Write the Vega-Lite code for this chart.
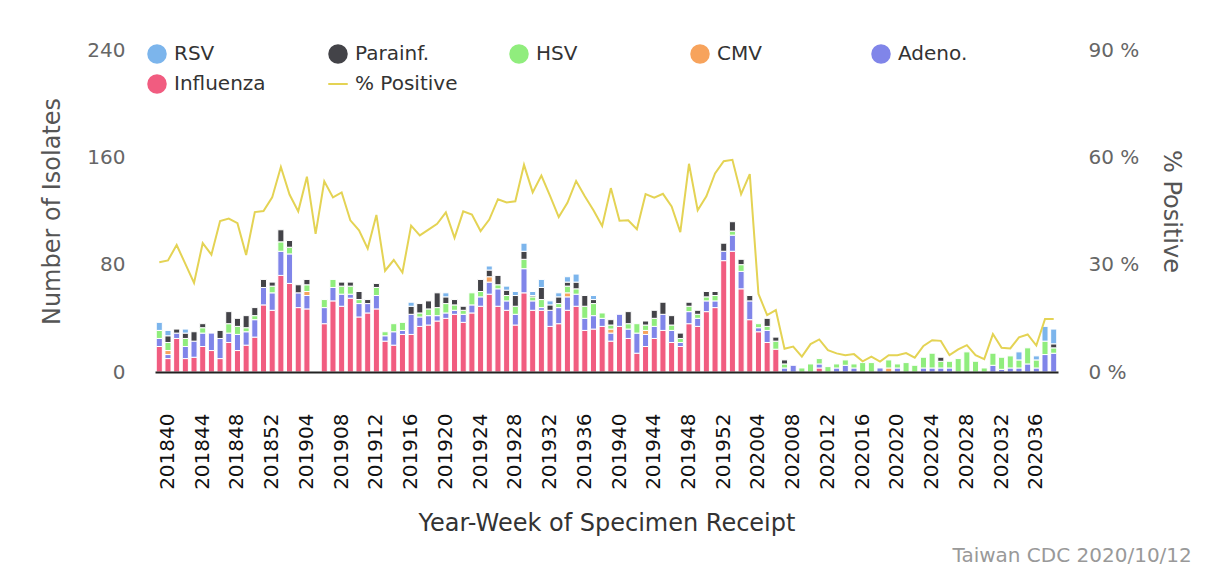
{
  "$schema": "https://vega.github.io/schema/vega-lite/v6.json",
  "autosize": "none",
  "width": 903,
  "height": 322,
  "padding": {"left": 155, "top": 50, "right": 156, "bottom": 195},
  "background": "white",
  "config": {
    "font": "DejaVu Sans",
    "view": {"stroke": null},
    "axis": {"grid": false, "titleFontWeight": "normal"},
    "legend": {
      "orient": "none",
      "legendX": -8,
      "legendY": -6,
      "direction": "horizontal",
      "columns": 5,
      "gridAlign": "all",
      "columnPadding": 47,
      "rowPadding": 10,
      "padding": 0,
      "symbolType": "circle",
      "symbolSize": 380,
      "symbolStrokeWidth": 0,
      "labelFontSize": 20,
      "labelColor": "#333333",
      "labelOffset": 7
    }
  },
  "title": {"text": "Taiwan CDC 2020/10/12", "orient": "bottom", "anchor": "end", "frame": "bounds", "fontSize": 20, "fontWeight": "normal", "color": "#999999", "offset": 11, "dx": 9},
  "datasets": {
    "rank": [
      {"series": "Influenza", "rank": 1},
      {"series": "Adeno", "rank": 2},
      {"series": "CMV", "rank": 3},
      {"series": "HSV", "rank": 4},
      {"series": "Parainf", "rank": 5},
      {"series": "RSV", "rank": 6}
    ],
    "weeks": [
      {"w":"201839","Influenza":19,"Adeno":6,"CMV":0,"HSV":6,"Parainf":0,"RSV":6,"p":30.7},
      {"w":"201840","Influenza":10,"Adeno":3,"CMV":3,"HSV":6,"Parainf":5,"RSV":4,"p":31.2},
      {"w":"201841","Influenza":25,"Adeno":4,"CMV":0,"HSV":0,"Parainf":3,"RSV":0,"p":35.5},
      {"w":"201842","Influenza":10,"Adeno":9,"CMV":0,"HSV":6,"Parainf":4,"RSV":3,"p":30.2},
      {"w":"201843","Influenza":11,"Adeno":12,"CMV":0,"HSV":0,"Parainf":7,"RSV":0,"p":24.9},
      {"w":"201844","Influenza":19,"Adeno":10,"CMV":0,"HSV":4,"Parainf":3,"RSV":0,"p":36.0},
      {"w":"201845","Influenza":16,"Adeno":13,"CMV":0,"HSV":0,"Parainf":0,"RSV":0,"p":32.8},
      {"w":"201846","Influenza":10,"Adeno":15,"CMV":0,"HSV":0,"Parainf":6,"RSV":0,"p":42.2},
      {"w":"201847","Influenza":22,"Adeno":7,"CMV":0,"HSV":7,"Parainf":9,"RSV":0,"p":42.9},
      {"w":"201848","Influenza":16,"Adeno":12,"CMV":0,"HSV":6,"Parainf":6,"RSV":0,"p":41.6},
      {"w":"201849","Influenza":20,"Adeno":10,"CMV":0,"HSV":3,"Parainf":9,"RSV":0,"p":32.7},
      {"w":"201850","Influenza":26,"Adeno":13,"CMV":0,"HSV":3,"Parainf":6,"RSV":0,"p":44.7},
      {"w":"201851","Influenza":50,"Adeno":13,"CMV":0,"HSV":0,"Parainf":6,"RSV":0,"p":45.0},
      {"w":"201852","Influenza":46,"Adeno":13,"CMV":0,"HSV":5,"Parainf":3,"RSV":0,"p":48.8},
      {"w":"201901","Influenza":72,"Adeno":18,"CMV":0,"HSV":7,"Parainf":9,"RSV":0,"p":57.3},
      {"w":"201902","Influenza":66,"Adeno":22,"CMV":0,"HSV":5,"Parainf":5,"RSV":0,"p":49.6},
      {"w":"201903","Influenza":48,"Adeno":11,"CMV":0,"HSV":0,"Parainf":6,"RSV":0,"p":44.9},
      {"w":"201904","Influenza":47,"Adeno":10,"CMV":3,"HSV":5,"Parainf":4,"RSV":0,"p":54.6},
      {"w":"201905","Influenza":0,"Adeno":0,"CMV":0,"HSV":0,"Parainf":0,"RSV":0,"p":38.6},
      {"w":"201906","Influenza":36,"Adeno":12,"CMV":0,"HSV":6,"Parainf":0,"RSV":0,"p":53.3},
      {"w":"201907","Influenza":53,"Adeno":10,"CMV":0,"HSV":6,"Parainf":0,"RSV":0,"p":48.8},
      {"w":"201908","Influenza":49,"Adeno":9,"CMV":0,"HSV":6,"Parainf":3,"RSV":0,"p":50.2},
      {"w":"201909","Influenza":55,"Adeno":3,"CMV":0,"HSV":6,"Parainf":3,"RSV":0,"p":42.4},
      {"w":"201910","Influenza":41,"Adeno":10,"CMV":0,"HSV":3,"Parainf":6,"RSV":0,"p":39.6},
      {"w":"201911","Influenza":44,"Adeno":7,"CMV":0,"HSV":0,"Parainf":3,"RSV":0,"p":34.5},
      {"w":"201912","Influenza":47,"Adeno":10,"CMV":0,"HSV":6,"Parainf":3,"RSV":0,"p":43.9},
      {"w":"201913","Influenza":23,"Adeno":4,"CMV":0,"HSV":3,"Parainf":0,"RSV":0,"p":28.3},
      {"w":"201914","Influenza":20,"Adeno":10,"CMV":0,"HSV":6,"Parainf":0,"RSV":0,"p":31.3},
      {"w":"201915","Influenza":28,"Adeno":3,"CMV":0,"HSV":6,"Parainf":0,"RSV":0,"p":27.8},
      {"w":"201916","Influenza":28,"Adeno":15,"CMV":0,"HSV":0,"Parainf":6,"RSV":3,"p":40.9},
      {"w":"201917","Influenza":34,"Adeno":7,"CMV":0,"HSV":3,"Parainf":7,"RSV":0,"p":38.2},
      {"w":"201918","Influenza":35,"Adeno":7,"CMV":0,"HSV":5,"Parainf":6,"RSV":0,"p":39.8},
      {"w":"201919","Influenza":38,"Adeno":4,"CMV":0,"HSV":6,"Parainf":11,"RSV":0,"p":41.4},
      {"w":"201920","Influenza":40,"Adeno":4,"CMV":0,"HSV":7,"Parainf":5,"RSV":3,"p":44.6},
      {"w":"201921","Influenza":43,"Adeno":3,"CMV":0,"HSV":4,"Parainf":4,"RSV":0,"p":37.5},
      {"w":"201922","Influenza":37,"Adeno":6,"CMV":0,"HSV":3,"Parainf":3,"RSV":0,"p":44.9},
      {"w":"201923","Influenza":44,"Adeno":6,"CMV":0,"HSV":9,"Parainf":0,"RSV":0,"p":44.0},
      {"w":"201924","Influenza":49,"Adeno":7,"CMV":0,"HSV":4,"Parainf":9,"RSV":0,"p":39.4},
      {"w":"201925","Influenza":58,"Adeno":9,"CMV":4,"HSV":0,"Parainf":5,"RSV":3,"p":42.6},
      {"w":"201926","Influenza":49,"Adeno":13,"CMV":0,"HSV":3,"Parainf":7,"RSV":0,"p":48.3},
      {"w":"201927","Influenza":46,"Adeno":7,"CMV":0,"HSV":4,"Parainf":4,"RSV":3,"p":47.4},
      {"w":"201928","Influenza":35,"Adeno":8,"CMV":0,"HSV":6,"Parainf":8,"RSV":3,"p":47.7},
      {"w":"201929","Influenza":59,"Adeno":18,"CMV":0,"HSV":7,"Parainf":6,"RSV":6,"p":57.9},
      {"w":"201930","Influenza":46,"Adeno":7,"CMV":0,"HSV":3,"Parainf":1,"RSV":3,"p":50.2},
      {"w":"201931","Influenza":46,"Adeno":2,"CMV":0,"HSV":6,"Parainf":9,"RSV":6,"p":54.9},
      {"w":"201932","Influenza":34,"Adeno":12,"CMV":0,"HSV":0,"Parainf":4,"RSV":3,"p":49.2},
      {"w":"201933","Influenza":36,"Adeno":12,"CMV":0,"HSV":3,"Parainf":5,"RSV":3,"p":43.3},
      {"w":"201934","Influenza":46,"Adeno":10,"CMV":3,"HSV":5,"Parainf":3,"RSV":4,"p":47.3},
      {"w":"201935","Influenza":49,"Adeno":9,"CMV":0,"HSV":4,"Parainf":5,"RSV":6,"p":53.4},
      {"w":"201936","Influenza":31,"Adeno":9,"CMV":0,"HSV":9,"Parainf":8,"RSV":0,"p":49.1},
      {"w":"201937","Influenza":32,"Adeno":10,"CMV":0,"HSV":9,"Parainf":3,"RSV":3,"p":45.2},
      {"w":"201938","Influenza":34,"Adeno":6,"CMV":0,"HSV":4,"Parainf":0,"RSV":0,"p":40.8},
      {"w":"201939","Influenza":23,"Adeno":6,"CMV":3,"HSV":3,"Parainf":4,"RSV":0,"p":51.4},
      {"w":"201940","Influenza":34,"Adeno":9,"CMV":0,"HSV":0,"Parainf":0,"RSV":0,"p":42.3},
      {"w":"201941","Influenza":25,"Adeno":7,"CMV":0,"HSV":4,"Parainf":9,"RSV":0,"p":42.4},
      {"w":"201942","Influenza":14,"Adeno":15,"CMV":0,"HSV":7,"Parainf":0,"RSV":0,"p":39.9},
      {"w":"201943","Influenza":19,"Adeno":9,"CMV":3,"HSV":4,"Parainf":3,"RSV":0,"p":49.7},
      {"w":"201944","Influenza":25,"Adeno":9,"CMV":0,"HSV":6,"Parainf":6,"RSV":0,"p":48.7},
      {"w":"201945","Influenza":31,"Adeno":12,"CMV":0,"HSV":0,"Parainf":9,"RSV":0,"p":49.8},
      {"w":"201946","Influenza":22,"Adeno":9,"CMV":0,"HSV":4,"Parainf":7,"RSV":0,"p":46.3},
      {"w":"201947","Influenza":19,"Adeno":3,"CMV":0,"HSV":3,"Parainf":4,"RSV":0,"p":39.1},
      {"w":"201948","Influenza":36,"Adeno":9,"CMV":0,"HSV":4,"Parainf":3,"RSV":0,"p":58.2},
      {"w":"201949","Influenza":34,"Adeno":6,"CMV":0,"HSV":3,"Parainf":3,"RSV":0,"p":45.2},
      {"w":"201950","Influenza":45,"Adeno":8,"CMV":0,"HSV":3,"Parainf":4,"RSV":0,"p":49.1},
      {"w":"201951","Influenza":48,"Adeno":5,"CMV":0,"HSV":4,"Parainf":3,"RSV":0,"p":55.5},
      {"w":"201952","Influenza":83,"Adeno":7,"CMV":0,"HSV":0,"Parainf":6,"RSV":0,"p":58.9},
      {"w":"202001","Influenza":90,"Adeno":12,"CMV":0,"HSV":3,"Parainf":7,"RSV":0,"p":59.3},
      {"w":"202002","Influenza":62,"Adeno":13,"CMV":0,"HSV":5,"Parainf":4,"RSV":0,"p":49.7},
      {"w":"202003","Influenza":39,"Adeno":14,"CMV":0,"HSV":0,"Parainf":4,"RSV":0,"p":55.3},
      {"w":"202004","Influenza":30,"Adeno":3,"CMV":0,"HSV":3,"Parainf":0,"RSV":0,"p":21.8},
      {"w":"202005","Influenza":22,"Adeno":9,"CMV":0,"HSV":3,"Parainf":6,"RSV":0,"p":15.9},
      {"w":"202006","Influenza":17,"Adeno":0,"CMV":0,"HSV":6,"Parainf":3,"RSV":0,"p":17.3},
      {"w":"202007","Influenza":0,"Adeno":3,"CMV":0,"HSV":3,"Parainf":3,"RSV":0,"p":6.5},
      {"w":"202008","Influenza":0,"Adeno":5,"CMV":0,"HSV":0,"Parainf":0,"RSV":0,"p":7.1},
      {"w":"202009","Influenza":0,"Adeno":0,"CMV":0,"HSV":3,"Parainf":0,"RSV":0,"p":4.3},
      {"w":"202010","Influenza":0,"Adeno":0,"CMV":0,"HSV":6,"Parainf":0,"RSV":0,"p":7.8},
      {"w":"202011","Influenza":3,"Adeno":3,"CMV":0,"HSV":4,"Parainf":0,"RSV":0,"p":9.1},
      {"w":"202012","Influenza":0,"Adeno":0,"CMV":0,"HSV":4,"Parainf":0,"RSV":0,"p":6.1},
      {"w":"202013","Influenza":0,"Adeno":3,"CMV":0,"HSV":3,"Parainf":0,"RSV":0,"p":5.2},
      {"w":"202014","Influenza":0,"Adeno":5,"CMV":0,"HSV":4,"Parainf":0,"RSV":0,"p":4.7},
      {"w":"202015","Influenza":0,"Adeno":3,"CMV":0,"HSV":3,"Parainf":0,"RSV":0,"p":5.0},
      {"w":"202016","Influenza":0,"Adeno":0,"CMV":0,"HSV":7,"Parainf":0,"RSV":0,"p":3.0},
      {"w":"202017","Influenza":0,"Adeno":0,"CMV":0,"HSV":7,"Parainf":0,"RSV":0,"p":4.3},
      {"w":"202018","Influenza":0,"Adeno":3,"CMV":0,"HSV":0,"Parainf":0,"RSV":0,"p":2.9},
      {"w":"202019","Influenza":0,"Adeno":0,"CMV":3,"HSV":6,"Parainf":0,"RSV":0,"p":4.7},
      {"w":"202020","Influenza":0,"Adeno":3,"CMV":0,"HSV":3,"Parainf":0,"RSV":0,"p":4.7},
      {"w":"202021","Influenza":0,"Adeno":0,"CMV":0,"HSV":7,"Parainf":0,"RSV":0,"p":5.3},
      {"w":"202022","Influenza":0,"Adeno":0,"CMV":0,"HSV":5,"Parainf":0,"RSV":0,"p":4.0},
      {"w":"202023","Influenza":0,"Adeno":3,"CMV":0,"HSV":8,"Parainf":0,"RSV":0,"p":7.3},
      {"w":"202024","Influenza":0,"Adeno":3,"CMV":0,"HSV":11,"Parainf":0,"RSV":0,"p":8.9},
      {"w":"202025","Influenza":0,"Adeno":3,"CMV":0,"HSV":5,"Parainf":3,"RSV":0,"p":8.7},
      {"w":"202026","Influenza":0,"Adeno":3,"CMV":0,"HSV":5,"Parainf":0,"RSV":0,"p":4.7},
      {"w":"202027","Influenza":0,"Adeno":0,"CMV":0,"HSV":10,"Parainf":0,"RSV":0,"p":6.3},
      {"w":"202028","Influenza":0,"Adeno":0,"CMV":0,"HSV":15,"Parainf":0,"RSV":0,"p":7.5},
      {"w":"202029","Influenza":0,"Adeno":0,"CMV":0,"HSV":8,"Parainf":0,"RSV":0,"p":4.7},
      {"w":"202030","Influenza":0,"Adeno":0,"CMV":0,"HSV":3,"Parainf":0,"RSV":0,"p":3.6},
      {"w":"202031","Influenza":0,"Adeno":5,"CMV":0,"HSV":9,"Parainf":0,"RSV":0,"p":10.6},
      {"w":"202032","Influenza":0,"Adeno":2,"CMV":0,"HSV":9,"Parainf":0,"RSV":0,"p":6.8},
      {"w":"202033","Influenza":0,"Adeno":3,"CMV":0,"HSV":9,"Parainf":0,"RSV":0,"p":6.6},
      {"w":"202034","Influenza":0,"Adeno":3,"CMV":0,"HSV":6,"Parainf":0,"RSV":6,"p":9.7},
      {"w":"202035","Influenza":0,"Adeno":6,"CMV":0,"HSV":12,"Parainf":0,"RSV":0,"p":10.5},
      {"w":"202036","Influenza":0,"Adeno":3,"CMV":0,"HSV":6,"Parainf":0,"RSV":3,"p":7.4},
      {"w":"202037","Influenza":0,"Adeno":13,"CMV":0,"HSV":10,"Parainf":0,"RSV":11,"p":14.8},
      {"w":"202038","Influenza":0,"Adeno":14,"CMV":0,"HSV":4,"Parainf":3,"RSV":11,"p":14.8}
    ]
  },
  "data": {"name": "weeks"},
  "encoding": {
    "x": {
      "field": "w",
      "type": "ordinal",
      "scale": {"paddingInner": 0.3, "paddingOuter": 0.145},
      "axis": {
        "title": "Year-Week of Specimen Receipt",
        "titleFontSize": 24,
        "titleColor": "#333333",
        "titlePadding": 22,
        "labelAngle": 270,
        "labelFontSize": 20,
        "labelColor": "#111111",
        "labelPadding": 41,
        "ticks": false,
        "domainColor": "#222222",
        "domainWidth": 2,
        "zindex": 1,
        "values": ["201840","201844","201848","201852","201904","201908","201912","201916","201920","201924","201928","201932","201936","201940","201944","201948","201952","202004","202008","202012","202016","202020","202024","202028","202032","202036"]
      }
    }
  },
  "layer": [
    {
      "transform": [
        {"fold": ["Influenza", "Adeno", "CMV", "HSV", "Parainf", "RSV"], "as": ["series", "count"]},
        {"filter": "datum.count > 0"},
        {"lookup": "series", "from": {"data": {"name": "rank"}, "key": "series", "fields": ["rank"]}}
      ],
      "mark": {"type": "bar", "stroke": "white", "strokeWidth": 1},
      "encoding": {
        "y": {
          "field": "count",
          "type": "quantitative",
          "stack": "zero",
          "scale": {"domain": [0, 240], "nice": false},
          "axis": {
            "title": "Number of Isolates",
            "titleFontSize": 24,
            "titleColor": "#555555",
            "titlePadding": 22,
            "values": [0, 80, 160, 240],
            "labelFontSize": 20,
            "labelColor": "#666666",
            "labelPadding": 30,
            "domain": false,
            "ticks": false
          }
        },
        "order": {"field": "rank", "type": "quantitative", "sort": "ascending"},
        "color": {
          "field": "series",
          "type": "nominal",
          "scale": {
            "domain": ["RSV", "Parainf", "HSV", "CMV", "Adeno", "Influenza", "% Positive"],
            "range": ["#7cb5ec", "#434348", "#90ed7d", "#f7a35c", "#8085e9", "#f15c80", "#e4d354"]
          },
          "legend": {
            "title": null,
            "labelExpr": "datum.label == 'Parainf' ? 'Parainf.' : datum.label == 'Adeno' ? 'Adeno.' : datum.label",
            "encode": {
              "symbols": {
                "update": {
                  "shape": {"signal": "datum.value === '% Positive' ? 'stroke' : 'circle'"},
                  "stroke": {"signal": "datum.value === '% Positive' ? '#e4d354' : 'transparent'"},
                  "strokeWidth": {"signal": "datum.value === '% Positive' ? 2 : 0"}
                }
              }
            }
          }
        }
      }
    },
    {
      "mark": {"type": "line", "strokeWidth": 2},
      "encoding": {
        "x": {"field": "w", "type": "ordinal", "bandPosition": 0.5},
        "y": {
          "field": "p",
          "type": "quantitative",
          "scale": {"domain": [0, 90], "nice": false},
          "axis": {
            "orient": "right",
            "title": "% Positive",
            "titleFontSize": 24,
            "titleColor": "#555555",
            "titlePadding": 20,
            "values": [0, 30, 60, 90],
            "labelExpr": "datum.value + ' %'",
            "labelFontSize": 20,
            "labelColor": "#666666",
            "labelPadding": 30,
            "domain": false,
            "ticks": false
          }
        },
        "color": {
          "datum": "% Positive",
          "legend": {
            "title": null,
            "labelExpr": "datum.label == 'Parainf' ? 'Parainf.' : datum.label == 'Adeno' ? 'Adeno.' : datum.label",
            "encode": {
              "symbols": {
                "update": {
                  "shape": {"signal": "datum.value === '% Positive' ? 'stroke' : 'circle'"},
                  "stroke": {"signal": "datum.value === '% Positive' ? '#e4d354' : 'transparent'"},
                  "strokeWidth": {"signal": "datum.value === '% Positive' ? 2 : 0"}
                }
              }
            }
          }
        }
      }
    }
  ],
  "resolve": {"scale": {"y": "independent"}}
}
